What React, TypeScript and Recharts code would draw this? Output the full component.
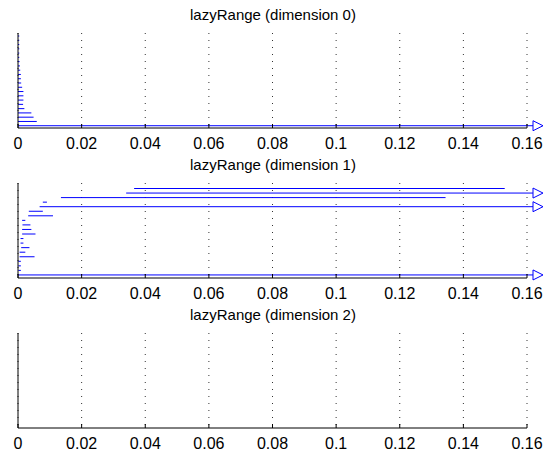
import { BarChart, Bar, XAxis, YAxis, CartesianGrid } from 'recharts'

const X_MAX = 0.16
const xTicks = [0, 0.02, 0.04, 0.06, 0.08, 0.1, 0.12, 0.14, 0.16]

// rows listed top to bottom; Infinity = open-ended range (drawn with an arrow)
const dim0Lo = [0, 0, 0, 0, 0, 0, 0, 0, 0, 0, 0, 0, 0, 0, 0, 0, 0, 0, 0, 0, 0, 0]
const dim0Hi = [
  0.0004, 0.0004, 0.0004, 0.0004, 0.0004, 0.0004, 0.0005, 0.0006, 0.0007, 0.0009, 0.0009,
  0.001, 0.0013, 0.0017, 0.0017, 0.0017, 0.0016, 0.002, 0.0042, 0.0049, 0.0059, Infinity,
]

const dim1Lo = [
  0.0365, 0.034, 0.0135, 0.0078, 0.0068, 0.0034, 0.0032, 0.0013, 0.0014, 0.0013,
  0.0013, 0.0008, 0.0008, 0.001, 0.0005, 0.0005, 0.0001, 0.0001, 0.0001, 0,
]
const dim1Hi = [
  0.153, Infinity, 0.1344, 0.0091, Infinity, 0.0078, 0.011, 0.0023, 0.0039, 0.0042,
  0.0055, 0.0017, 0.0017, 0.0036, 0.0023, 0.0052, 0.0009, 0.0009, 0.0009, Infinity,
]

// dimension 2 has no ranges
const dim2Lo: number[] = []
const dim2Hi: number[] = []

const BLUE = '#0000ff'

function buildRows(lo: number[], hi: number[], minRows = 0) {
  const n = Math.max(lo.length, minRows)
  return Array.from({ length: n }, (_, i) =>
    i < lo.length
      ? { row: String(i), range: [lo[i], Math.min(hi[i], X_MAX)], open: hi[i] === Infinity }
      : { row: String(i), range: [0, 0], open: false, empty: true }
  )
}

// horizontal line for one range, open-ended ones get an arrow past the axis end
function RangeLine(props: any) {
  const { x, y, width, height, payload } = props
  if (!payload || payload.empty) return null
  const cy = y + height / 2
  const x2 = x + width + (payload.open ? 6 : 0)
  return (
    <g fill="none" stroke={BLUE} strokeWidth={1}>
      <path d={`M${x},${cy}H${x2}`} />
      {payload.open && <path d={`M${x2},${cy - 5}L${x2 + 10},${cy}L${x2},${cy + 5}Z`} fill="#fff" />}
    </g>
  )
}

function Subplot({ title, data, pad }: { title: string; data: any[]; pad: { top: number; bottom: number } }) {
  return (
    <div style={{ position: 'relative', width: 552, height: 150 }}>
      <div
        style={{
          position: 'absolute',
          left: 19,
          width: 508,
          top: 6,
          textAlign: 'center',
          fontSize: 15,
          lineHeight: '18px',
        }}
      >
        {title}
      </div>
      <BarChart
        width={552}
        height={160}
        layout="vertical"
        data={data}
        margin={{ top: 33, right: 25, bottom: 10, left: 18 }}
        barCategoryGap={0}
      >
        <CartesianGrid horizontal={false} stroke="#333" strokeDasharray="1 6" />
        <XAxis
          type="number"
          domain={[0, X_MAX]}
          ticks={xTicks}
          interval={0}
          height={22}
          tickSize={-4}
          tickMargin={14}
          stroke="#000"
          tick={{ fontSize: 16, fill: '#000' }}
        />
        <YAxis
          type="category"
          dataKey="row"
          width={1}
          mirror
          tick={false}
          tickSize={3}
          tickLine={{ stroke: '#bbb' }}
          axisLine={{ stroke: '#000' }}
          padding={pad}
        />
        <Bar dataKey="range" shape={<RangeLine />} isAnimationActive={false} />
      </BarChart>
    </div>
  )
}

export default function App() {
  return (
    <div
      style={{
        position: 'absolute',
        left: 0,
        top: 0,
        width: 552,
        height: 457,
        background: '#fff',
        fontFamily: '"Liberation Sans", Arial, sans-serif',
      }}
    >
      <Subplot title="lazyRange (dimension 0)" data={buildRows(dim0Lo, dim0Hi)} pad={{ top: 1, bottom: 0 }} />
      <Subplot title="lazyRange (dimension 1)" data={buildRows(dim1Lo, dim1Hi)} pad={{ top: 3, bottom: 1 }} />
      <Subplot title="lazyRange (dimension 2)" data={buildRows(dim2Lo, dim2Hi, 10)} pad={{ top: 0, bottom: 0 }} />
    </div>
  )
}
